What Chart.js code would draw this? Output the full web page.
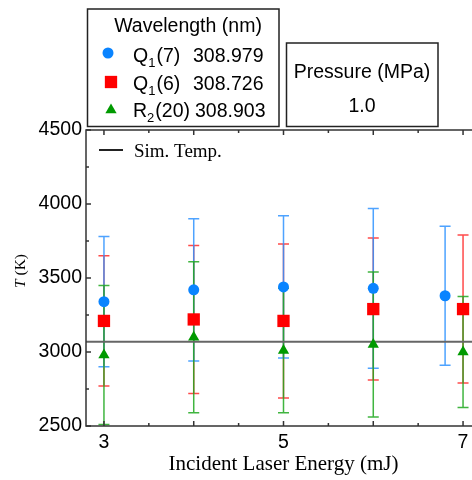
<!DOCTYPE html>
<html>
<head>
<meta charset="utf-8">
<script src="https://cdn.jsdelivr.net/npm/chart.js@4.4.1/dist/chart.umd.min.js"></script>
<style>
  html, body { margin: 0; padding: 0; background: #fff; overflow: hidden; }
  #wrap { position: absolute; left: 0; top: 0; width: 492px; height: 480px; }
</style>
</head>
<body>
<div id="wrap"><canvas id="myChart" width="492" height="480"></canvas></div>
<script>
// Q1(7) line was measured at 6.8 mJ instead of 7 for the last shot
const energy_q17 = [3, 4, 5, 6, 6.8];
const temp_q17 = [3340, 3420, 3440, 3430, 3380];
const err_q17 = [440, 480, 480, 540, 470];

const energy = [3, 4, 5, 6, 7];
const temp_q16 = [3210, 3220, 3210, 3290, 3290];
const err_q16 = [440, 500, 520, 480, 500];
const temp_r220 = [2980, 3100, 3010, 3050, 3000];
const err_r220 = [470, 510, 420, 490, 375];

const sim_temp = 3070;
const pressure = '1.0';
const x_range = [2.8, 7.2];
const y_range = [2500, 4500];
const x_labels = [3, 5, 7];
const y_labels = [2500, 3000, 3500, 4000, 4500];

const SANS = '"Liberation Sans", Arial, sans-serif';
const SERIF = '"Liberation Serif", "Times New Roman", serif';

function points(xs, ys, es) {
    return xs.map((x, i) => ({ x: x, y: ys[i], err: es[i] }));
}

const series = [
    { label: 'Q1(7)', data: points(energy_q17, temp_q17, err_q17), color: '#0a84ff', bar: '#2f93ff', style: 'circle', radius: 5.5 },
    { label: 'Q1(6)', data: points(energy, temp_q16, err_q16), color: '#ff0000', bar: '#ff2a2a', style: 'rect', radius: 8.7 },
    { label: 'R2(20)', data: points(energy, temp_r220, err_r220), color: '#009a00', bar: '#1fa81f', style: 'triangle', radius: 6.5 }
];

const datasets = series.map(s => ({
    label: s.label,
    data: s.data,
    pointStyle: s.style,
    pointRadius: s.radius,
    pointHoverRadius: s.radius,
    backgroundColor: s.color,
    borderColor: s.color,
    pointBorderWidth: 0,
    showLine: false,
    errColor: s.bar
}));

// simulated temperature, drawn last in the list so it sits under the markers
datasets.push({
    label: 'Sim. Temp.',
    data: [{ x: x_range[0], y: sim_temp }, { x: x_range[1], y: sim_temp }],
    showLine: true,
    pointRadius: 0,
    borderColor: '#666666',
    borderWidth: 2
});

const errorBars = {
    id: 'errorBars',
    beforeDatasetsDraw(chart) {
        const ctx = chart.ctx;
        const y = chart.scales.y;
        ctx.save();
        ctx.lineWidth = 1.5;
        ctx.globalAlpha = 0.85;
        [1, 0, 2].forEach(di => {
            const ds = chart.data.datasets[di];
            const meta = chart.getDatasetMeta(di);
            ctx.strokeStyle = ds.errColor;
            ds.data.forEach((p, i) => {
                const px = meta.data[i].x;
                const top = y.getPixelForValue(p.y + p.err);
                const bot = y.getPixelForValue(p.y - p.err);
                ctx.beginPath();
                ctx.moveTo(px, top); ctx.lineTo(px, bot);
                ctx.moveTo(px - 5.5, top); ctx.lineTo(px + 5.5, top);
                ctx.moveTo(px - 5.5, bot); ctx.lineTo(px + 5.5, bot);
                ctx.stroke();
            });
        });
        ctx.restore();
    }
};

// box around the plot with inward ticks on left, bottom and top
const frame = {
    id: 'frame',
    afterDatasetsDraw(chart) {
        const ctx = chart.ctx;
        const ca = chart.chartArea;
        const xs = chart.scales.x, ys = chart.scales.y;
        ctx.save();
        ctx.strokeStyle = '#333';
        ctx.lineWidth = 1.5;
        ctx.strokeRect(ca.left, ca.top, ca.right - ca.left, ca.bottom - ca.top);
        ctx.beginPath();
        for (let v = 3; v <= 7; v += 0.5) {
            const px = xs.getPixelForValue(v);
            const len = Number.isInteger(v) ? 5 : 3;
            ctx.moveTo(px, ca.bottom); ctx.lineTo(px, ca.bottom - len);
            ctx.moveTo(px, ca.top); ctx.lineTo(px, ca.top + len);
        }
        for (let v = y_range[0]; v <= y_range[1]; v += 250) {
            const py = ys.getPixelForValue(v);
            const len = v % 500 === 0 ? 5 : 3;
            ctx.moveTo(ca.left, py); ctx.lineTo(ca.left + len, py);
        }
        ctx.stroke();
        ctx.restore();
    }
};

function subText(ctx, x, base, main, sub, rest) {
    ctx.font = '19.5px ' + SANS;
    ctx.fillText(main, x, base);
    x += ctx.measureText(main).width;
    ctx.font = '13px ' + SANS;
    ctx.fillText(sub, x, base + 5);
    x += ctx.measureText(sub).width + 1;
    ctx.font = '19.5px ' + SANS;
    ctx.fillText(rest, x, base);
}

const boxes = {
    id: 'boxes',
    afterDraw(chart) {
        const ctx = chart.ctx;
        const dp = Chart.helpers.drawPoint;
        ctx.save();
        ctx.strokeStyle = '#222';
        ctx.lineWidth = 1.5;
        ctx.strokeRect(87.5, 9, 191.5, 117.5);
        ctx.strokeRect(286.5, 43, 151.5, 83.5);

        ctx.fillStyle = '#000';
        ctx.textAlign = 'center';
        ctx.textBaseline = 'alphabetic';
        ctx.font = '19.5px ' + SANS;
        ctx.fillText('Wavelength (nm)', 188, 32);
        ctx.fillText('Pressure (MPa)', 362, 78);
        ctx.fillText(pressure, 362, 112);

        ctx.textAlign = 'left';
        subText(ctx, 133, 61.5, 'Q', '1', '(7)');
        subText(ctx, 133, 89.5, 'Q', '1', '(6)');
        subText(ctx, 133, 116.5, 'R', '2', '(20)');
        ctx.font = '19.5px ' + SANS;
        ctx.fillText('308.979', 193, 61.5);
        ctx.fillText('308.726', 193, 89.5);
        ctx.fillText('308.903', 195, 116.5);

        const marks = [53, 82, 110];
        series.forEach((s, i) => {
            ctx.fillStyle = s.color;
            dp(ctx, { pointStyle: s.style, radius: s.radius, borderWidth: 0, rotation: 0 }, i === 0 ? 108 : 111, marks[i]);
        });

        // key for the simulated temperature line
        const ca = chart.chartArea;
        ctx.strokeStyle = '#222';
        ctx.lineWidth = 2;
        ctx.beginPath();
        ctx.moveTo(ca.left + 13, 150); ctx.lineTo(ca.left + 37, 150);
        ctx.stroke();
        ctx.fillStyle = '#000';
        ctx.font = '19px ' + SERIF;
        ctx.fillText('Sim. Temp.', ca.left + 48, 157);

        // y axis title, italic T
        ctx.translate(21, 271);
        ctx.rotate(-Math.PI / 2);
        ctx.font = 'italic 15.5px ' + SERIF;
        const wT = ctx.measureText('T').width;
        ctx.font = '15.5px ' + SERIF;
        const wK = ctx.measureText(' (K)').width;
        ctx.textBaseline = 'middle';
        ctx.font = 'italic 15.5px ' + SERIF;
        ctx.fillText('T', -(wT + wK) / 2, 0);
        ctx.font = '15.5px ' + SERIF;
        ctx.fillText(' (K)', -(wT + wK) / 2 + wT, 0);
        ctx.restore();
    }
};

const ctx = document.getElementById('myChart').getContext('2d');
const myChart = new Chart(ctx, {
    type: 'scatter',
    data: { datasets: datasets },
    plugins: [errorBars, frame, boxes],
    options: {
        responsive: false,
        animation: false,
        devicePixelRatio: 1,
        layout: { padding: { left: 0, right: 11, top: 130, bottom: 0 } },
        plugins: { legend: { display: false }, tooltip: { enabled: false } },
        scales: {
            x: {
                type: 'linear',
                min: x_range[0],
                max: x_range[1],
                afterBuildTicks: s => { s.ticks = x_labels.map(v => ({ value: v })); },
                afterFit: s => { s.height = 54; },
                grid: { display: false, drawTicks: false },
                border: { display: false },
                ticks: { font: { family: SANS, size: 19.5 }, color: '#000', padding: 5, maxRotation: 0, autoSkip: false },
                title: {
                    display: true,
                    text: 'Incident Laser Energy (mJ)',
                    font: { family: SERIF, size: 21 },
                    color: '#000',
                    padding: { top: 0, bottom: 3 }
                }
            },
            y: {
                type: 'linear',
                min: y_range[0],
                max: y_range[1],
                afterBuildTicks: s => { s.ticks = y_labels.map(v => ({ value: v })); },
                afterFit: s => { s.width = 86; },
                grid: { display: false, drawTicks: false },
                border: { display: false },
                ticks: {
                    font: { family: SANS, size: 19.5 },
                    color: '#000',
                    padding: 4,
                    callback: v => String(v)
                }
            }
        }
    }
});
</script>
</body>
</html>
